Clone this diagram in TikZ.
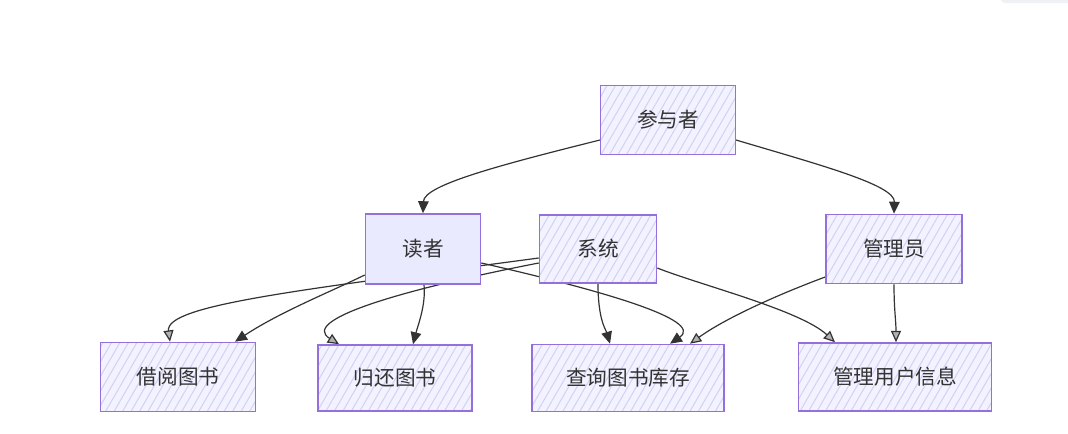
\documentclass[tikz,border=0pt]{standalone}
\usepackage{fontspec}
\setmainfont{Noto Sans CJK SC}
\usetikzlibrary{arrows.meta,patterns.meta,backgrounds}
\definecolor{boxline}{HTML}{9370DB}
\definecolor{boxbg}{HTML}{F3F3FF}
\definecolor{hatchc}{HTML}{D2D2F6}
\definecolor{solidbg}{HTML}{EAEAFF}
\definecolor{edgec}{HTML}{333333}
\definecolor{cornerc}{HTML}{F0F1F4}
\begin{document}
\begin{tikzpicture}[x=0.75pt,y=-0.75pt,
  box/.style={draw=boxline, line width=1.2pt, preaction={fill=boxbg},
    pattern={Lines[angle=60,distance=5.5pt,line width=0.8pt]}, pattern color=hatchc,
    font=\fontsize{15.5}{18}\selectfont, text=edgec, inner sep=0pt},
  solidbox/.style={draw=boxline, line width=1.2pt, fill=solidbg,
    font=\fontsize{15.5}{18}\selectfont, text=edgec, inner sep=0pt},
  link/.style={draw=edgec, line width=0.9pt},
  heavy/.style={link, -{Triangle[length=9pt,width=8pt]}},
  light/.style={link, -{Triangle[length=8.5pt,width=7.5pt,fill=gray!60]}}
]
\useasboundingbox (0,0) rectangle (1068,433);
\node[box, minimum width=101.25pt, minimum height=51.75pt] (p) at (668,120) {参与者};
\node[solidbox, minimum width=86.25pt, minimum height=52.5pt] (r) at (423,249) {读者};
\node[box, minimum width=87.75pt, minimum height=51pt] (s) at (598,249) {系统};
\node[box, minimum width=102pt, minimum height=51.75pt] (m) at (894,249) {管理员};
\node[box, minimum width=116.25pt, minimum height=51.75pt] (b1) at (178,377) {借阅图书};
\node[box, minimum width=115.5pt, minimum height=49.5pt] (b2) at (395,378) {归还图书};
\node[box, minimum width=144pt, minimum height=50.25pt] (b3) at (628,378) {查询图书库存};
\node[box, minimum width=144.75pt, minimum height=51pt] (b4) at (895,377) {管理用户信息};
\begin{scope}[on background layer]
\fill[white] (0,0) rectangle (1068,433);
\fill[cornerc] (998,0) -- (998,-1) -- (1068,-1) -- (1068,3) -- (1006,3) arc[start angle=90,end angle=180,radius=6] -- cycle;
\draw[heavy] ([yshift=-15pt]p.west) .. controls (500,165) and (424,185) .. (r.north);
\draw[heavy] ([yshift=-15pt]p.east) .. controls (820,165) and (895,185) .. (m.north);
\draw[heavy] ([yshift=-19.5pt]r.west) .. controls (330,292) and (280,312) .. ([xshift=42.75pt]b1.north);
\draw[heavy] ([xshift=0.75pt]r.south) .. controls (426,305) and (418,325) .. ([xshift=13.5pt]b2.north);
\draw[heavy] ([yshift=-10.5pt]r.east) .. controls (600,290) and (705,320) .. ([xshift=31.5pt]b3.north);
\draw[light] ([yshift=-6.75pt]s.west) .. controls (300,290) and (165,305) .. ([xshift=-6pt]b1.north);
\draw[light] ([yshift=-10.5pt]s.west) .. controls (400,290) and (300,320) .. ([xshift=-42pt]b2.north);
\draw[heavy] (s.south) .. controls (598,320) and (606,330) .. ([xshift=-13.5pt]b3.north);
\draw[light] ([yshift=-14.25pt]s.east) .. controls (700,285) and (800,310) .. ([xshift=-45pt]b4.north);
\draw[light] ([yshift=-21pt]m.west) .. controls (790,290) and (730,315) .. ([xshift=46.5pt]b3.north);
\draw[light] (m.south) .. controls (894,310) and (896,320) .. ([xshift=0.75pt]b4.north);
\end{scope}
\end{tikzpicture}
\end{document}
